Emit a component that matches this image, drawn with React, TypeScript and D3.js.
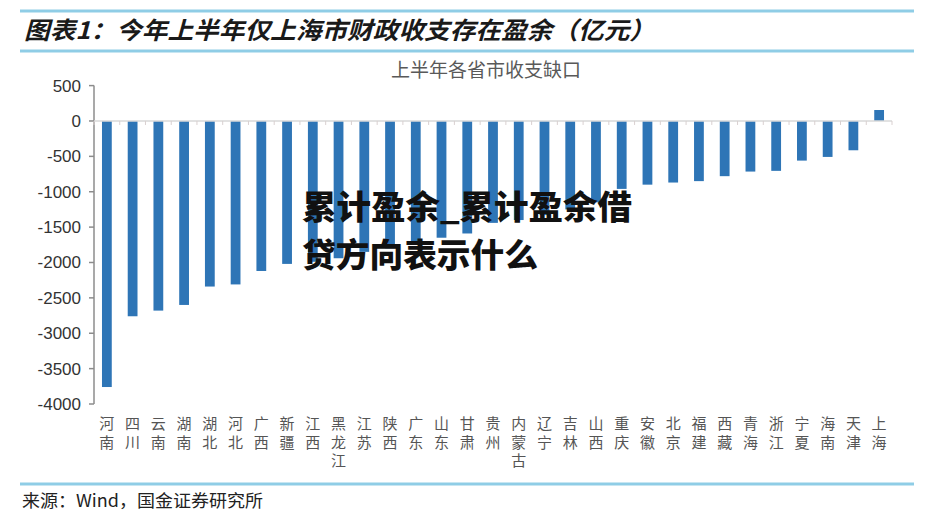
import React from 'react';
import * as d3 from 'd3';

// 上半年各省市收支缺口（亿元）
const provinces = [
  '河南', '四川', '云南', '湖南', '湖北', '河北', '广西', '新疆', '江西', '黑龙江',
  '江苏', '陕西', '广东', '山东', '甘肃', '贵州', '内蒙古', '辽宁', '吉林', '山西',
  '重庆', '安徽', '北京', '福建', '西藏', '青海', '浙江', '宁夏', '海南', '天津', '上海',
];
const gaps = [
  -3760, -2760, -2680, -2600, -2340, -2310, -2120, -2020, -1990, -1940,
  -1850, -1800, -1720, -1650, -1590, -1440, -1400, -1330, -1250, -1150,
  -960, -900, -870, -850, -780, -715, -705, -560, -508, -414, 155,
];
const yTicks = [500, 0, -500, -1000, -1500, -2000, -2500, -3000, -3500, -4000];

const mainTitle = '图表1：今年上半年仅上海市财政收支存在盈余（亿元）';
const chartTitle = '上半年各省市收支缺口';
const sourceText = '来源：Wind，国金证券研究所';
const overlayLines = ['累计盈余_累计盈余借', '贷方向表示什么'];

const W = 928;
const H = 522;
const CJK = '"Noto Sans CJK SC", "Noto Sans", sans-serif';

const App: React.FC = () => {
  const x = d3.scaleBand<string>()
    .domain(provinces)
    .range([94, 892])
    .paddingInner(0.62)
    .paddingOuter(0.31);
  const y = d3.scaleLinear().domain([-4000, 500]).range([404, 85.6]);
  const step = x.step();
  const y0 = y(0);

  return (
    <div style={{ margin: -8, width: W, height: H, overflow: 'hidden' }}>
      <svg width={W} height={H} style={{ display: 'block', background: '#fff' }}>
        {/* frame */}
        <line x1={3} x2={3} y1={0} y2={H} stroke="#a0a0a0" strokeWidth={1.5} />
        <line x1={924} x2={924} y1={0} y2={H} stroke="#a0a0a0" strokeWidth={1.5} />
        <line x1={20} x2={914} y1={11} y2={11} stroke="#8fcde6" strokeWidth={3} />
        <line x1={20} x2={914} y1={51} y2={51} stroke="#8fcde6" strokeWidth={3} />
        <line x1={20} x2={914} y1={484} y2={484} stroke="#8fcde6" strokeWidth={3} />

        <text x={24} y={39} fontFamily={CJK} fontSize={24} fontWeight="bold" fontStyle="italic"
          fill="#1a1a1a" textLength={631} lengthAdjust="spacingAndGlyphs">{mainTitle}</text>
        <text x={22} y={507} fontFamily={CJK} fontSize={17} fill="#222"
          textLength={241} lengthAdjust="spacingAndGlyphs">{sourceText}</text>

        <text x={486} y={77} textAnchor="middle" fontFamily={CJK} fontSize={19} fill="#595959">{chartTitle}</text>

        {/* y axis */}
        <line x1={94} x2={94} y1={y(500)} y2={y(-4000)} stroke="#8c8c8c" strokeWidth={1.5} />
        {yTicks.map(t => (
          <g key={t}>
            <line x1={89} x2={94} y1={y(t)} y2={y(t)} stroke="#8c8c8c" strokeWidth={1.5} />
            <text x={81} y={y(t)} dy="0.35em" textAnchor="end"
              fontFamily='"Liberation Sans", Arial, sans-serif' fontSize={17} fill="#333">{t}</text>
          </g>
        ))}

        {/* bars */}
        {provinces.map((p, i) => (
          <rect key={p} x={x(p)} width={x.bandwidth()}
            y={Math.min(y(gaps[i]), y0)} height={Math.abs(y(gaps[i]) - y0)} fill="#2e75b6" />
        ))}

        {/* x axis */}
        <line x1={94} x2={892} y1={y0} y2={y0} stroke="#d9d9d9" strokeWidth={1.5} />
        {d3.range(provinces.length + 1).map(k => (
          <line key={k} x1={94 + k * step} x2={94 + k * step} y1={y0} y2={y0 + 4} stroke="#d9d0d0" strokeWidth={1} />
        ))}
        {provinces.map(p => (
          <text key={p} fontFamily={CJK} fontSize={15} fill="#555" textAnchor="middle">
            {Array.from(p).map((c, j) => (
              <tspan key={j} x={(x(p) ?? 0) + x.bandwidth() / 2} y={429 + j * 18.5}>{c}</tspan>
            ))}
          </text>
        ))}

        {/* overlay title */}
        <text x={302} y={219} fontFamily={CJK} fontSize={33} fontWeight={900} fill="#111"
          textLength={330} lengthAdjust="spacingAndGlyphs">{overlayLines[0]}</text>
        <text x={302} y={267} fontFamily={CJK} fontSize={33} fontWeight={900} fill="#111"
          textLength={236} lengthAdjust="spacingAndGlyphs">{overlayLines[1]}</text>
      </svg>
    </div>
  );
};

export default App;
